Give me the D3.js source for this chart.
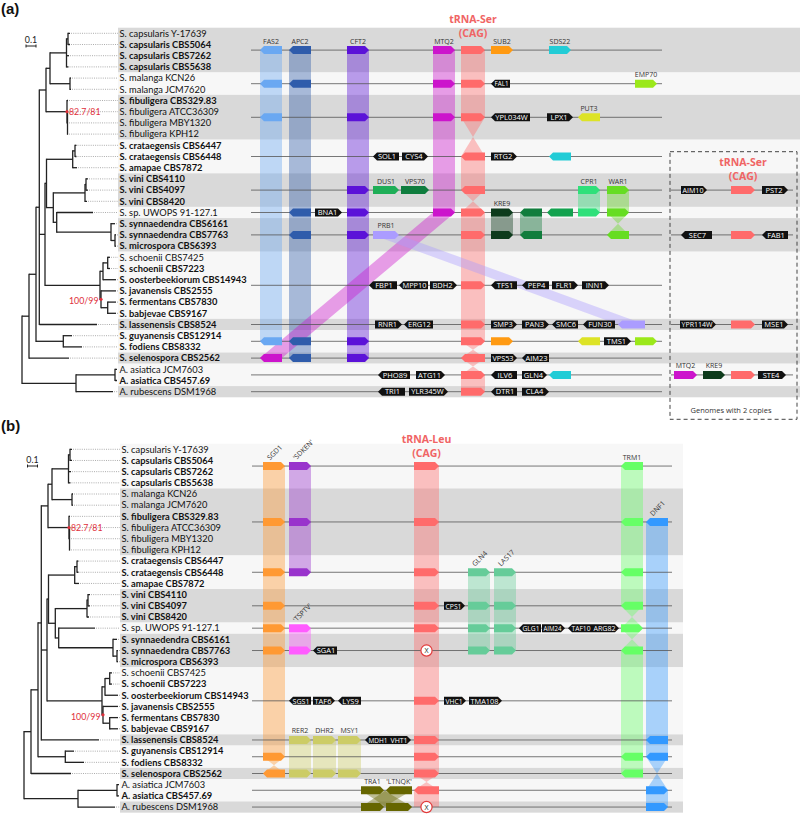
<!DOCTYPE html>
<html><head><meta charset="utf-8">
<script src="https://cdn.jsdelivr.net/npm/d3@7"></script>
<style>body{margin:0;background:#fff}svg{display:block}</style>
</head><body>
<svg id="fig" width="800" height="815"></svg>
<script>
// ---------------- DATA ----------------
const species = ["S. capsularis Y-17639","S. capsularis CBS5064","S. capsularis CBS7262","S. capsularis CBS5638",
 "S. malanga KCN26","S. malanga JCM7620","S. fibuligera CBS329.83","S. fibuligera ATCC36309","S. fibuligera MBY1320","S. fibuligera KPH12",
 "S. crataegensis CBS6447","S. crataegensis CBS6448","S. amapae CBS7872","S. vini CBS4110","S. vini CBS4097","S. vini CBS8420",
 "S. sp. UWOPS 91-127.1","S. synnaedendra CBS6161","S. synnaedendra CBS7763","S. microspora CBS6393","S. schoenii CBS7425","S. schoenii CBS7223",
 "S. oosterbeekiorum CBS14943","S. javanensis CBS2555","S. fermentans CBS7830","S. babjevae CBS9167","S. lassenensis CBS8524","S. guyanensis CBS12914",
 "S. fodiens CBS8332","S. selenospora CBS2562","A. asiatica JCM7603","A. asiatica CBS457.69","A. rubescens DSM1968"];
const speciesBold = [0,1,1,1, 0,0, 1,0,0,0, 1,1,1, 1,1,1, 0, 1,1,1, 0,1, 1, 1,1,1, 1, 1,1, 1, 0,1, 0];

const groupSizesA = [4,2,4,3,3,1,3,6,1,2,1,2,1];
const groupSizesB = [4,6,3,3,1,3,6,1,2,1,2,1];

const treeNewick =
"(" + "(" + "(" + "(" +
  "((" +
    "(('S. capsularis Y-17639':0.02,'S. capsularis CBS5064':0.02):0.015,'S. capsularis CBS7262':0.025,'S. capsularis CBS5638':0.02):0.165," +
    "('S. malanga KCN26':0.01,'S. malanga JCM7620':0.01):0.2" +
  "):0.04," +
  "('S. fibuligera CBS329.83':0.01,('S. fibuligera ATCC36309':0.005,'S. fibuligera MBY1320':0.005,'S. fibuligera KPH12':0.005):0.005)FIB:0.21" +
 "):0.067," +
 "(" + "(" +
   "(('S. crataegensis CBS6447':0.015,'S. crataegensis CBS6448':0.015):0.023,'S. amapae CBS7872':0.043):0.262," +
   "(" +
     "(('S. vini CBS4110':0.02,'S. vini CBS4097':0.02):0.01,'S. vini CBS8420':0.02):0.317," +
     "('S. sp. UWOPS 91-127.1':0.363,('S. synnaedendra CBS6161':0.04,('S. synnaedendra CBS7763':0.01,'S. microspora CBS6393':0.01):0.04):0.543):0.034" +
   "):0.068" +
  "):0.015," +
  "(" +
   "(('S. schoenii CBS7425':0.023,'S. schoenii CBS7223':0.023):0.047,'S. oosterbeekiorum CBS14943':0.13):0.03," +
   "('S. javanensis CBS2555':0.15,('S. fermentans CBS7830':0.083,'S. babjevae CBS9167':0.083):0.067)S2:0.01" +
  "):0.55" +
 "):0.057," +
 "'S. lassenensis CBS8524':0.577" +
"):0.033," +
"('S. guyanensis CBS12914':0.087,'S. fodiens CBS8332':0.187):0.273" +
"):0.07," +
"'S. selenospora CBS2562':0.4" +
"):0.07," +
"(('A. asiatica JCM7603':0.02,'A. asiatica CBS457.69':0.02):0.39,'A. rubescens DSM1968':0.37):0.54" +
")";
const supportLabels = [["FIB","82.7/81","right"],["S2","100/99","left"]];
const scaleBarValue = 0.1;

// genes: [group, label, family, start, end, strand(1 right,-1 left,0 missing), labelMode]
const genesA = [
 [0,"FAS2","FAS2",1.0,3.2,-1,"above"],[0,"APC2","APC2",3.9,6.1,-1,"above"],[0,"CFT2","CFT2",9.7,11.9,1,"above"],[0,"MTQ2","MTQ2",18.3,20.5,1,"above"],[0,"tRNA","TRNA",21.1,23.5,1,""],[0,"SUB2","SUB2",24.1,26.3,1,"above"],[0,"SDS22","SDS22",29.9,32.1,1,"above"],
 [1,"FAS2","FAS2",1.0,3.2,-1,""],[1,"APC2","APC2",3.9,6.1,-1,""],[1,"MTQ2","MTQ2",18.3,20.5,1,""],[1,"tRNA","TRNA",21.1,23.5,1,""],[1,"FAL1","BLACK",24.1,26.0,-1,"in"],[1,"EMP70","EMP70",38.5,40.7,1,"above"],
 [2,"FAS2","FAS2",1.0,3.2,-1,""],[2,"CFT2","CFT2",9.7,11.9,1,""],[2,"MTQ2","MTQ2",18.3,20.5,1,""],[2,"tRNA","TRNA",21.1,23.5,1,""],[2,"YPL034W","BLACK",24.1,28.0,-1,"in"],[2,"LPX1","BLACK",29.7,32.3,1,"in"],[2,"PUT3","PUT3",32.8,35.0,-1,"above"],
 [3,"SOL1","BLACK",12.3,14.9,-1,"in"],[3,"CYS4","BLACK",15.2,17.8,1,"in"],[3,"tRNA","TRNA",21.1,23.5,-1,""],[3,"RTG2","BLACK",24.1,26.7,1,"in"],[3,"SDS22","SDS22",29.9,32.1,-1,""],
 [4,"CFT2","CFT2",9.7,11.9,1,""],[4,"DUS1","DUS1",12.3,14.9,1,"above"],[4,"VPS70","VPS70",15.1,17.9,1,"above"],[4,"tRNA","TRNA",21.1,23.5,-1,""],[4,"CPR1","CPR1",32.8,35.0,1,"above"],[4,"WAR1","WAR1",35.7,37.9,1,"above"],
 [5,"APC2","APC2",3.9,6.1,-1,""],[5,"BNA1","BLACK",6.5,9.2,1,"in"],[5,"CFT2","CFT2",9.7,11.9,1,""],[5,"MTQ2","MTQ2",18.3,20.5,1,""],[5,"tRNA","TRNA",21.1,23.5,1,""],[5,"KRE9","KRE9",24.1,26.3,1,"above"],[5,"g1","GRN1",27.0,29.2,-1,""],[5,"g2","GRN2",29.7,32.3,-1,""],[5,"CPR1","CPR1",32.8,35.0,1,""],[5,"WAR1","WAR1",35.7,37.9,1,""],
 [6,"APC2","APC2",3.9,6.1,-1,""],[6,"CFT2","CFT2",9.7,11.9,1,""],[6,"PRB1","PRB1",12.3,14.9,1,"above"],[6,"tRNA","TRNA",21.1,23.5,1,""],[6,"KRE9","KRE9",24.1,26.3,1,""],[6,"g1","GRN1",27.0,29.2,-1,""],[6,"WAR1","WAR1",35.7,37.9,-1,""],
 [7,"FBP1","BLACK",11.9,14.7,-1,"in"],[7,"MPP10","BLACK",14.9,17.8,-1,"in"],[7,"BDH2","BLACK",18.0,20.7,1,"in"],[7,"tRNA","TRNA",21.1,23.5,1,""],[7,"TFS1","BLACK",24.1,26.7,-1,"in"],[7,"PEP4","BLACK",27.2,29.9,-1,"in"],[7,"FLR1","BLACK",30.2,32.8,1,"in"],[7,"INN1","BLACK",33.2,35.9,1,"in"],
 [8,"RNR1","BLACK",12.5,15.2,1,"in"],[8,"ERG12","BLACK",15.4,18.3,-1,"in"],[8,"tRNA","TRNA",21.1,23.5,1,""],[8,"SMP3","BLACK",24.1,26.7,1,"in"],[8,"PAN3","BLACK",27.2,29.9,1,"in"],[8,"SMC6","BLACK",30.2,32.8,-1,"in"],[8,"FUN30","BLACK",33.3,36.5,-1,"in"],[8,"PRB1","PRB1",36.8,39.5,-1,""],
 [9,"FAS2","FAS2",1.0,3.2,-1,""],[9,"APC2","APC2",3.9,6.1,-1,""],[9,"CFT2","CFT2",9.7,11.9,1,""],[9,"tRNA","TRNA",21.1,23.5,1,""],[9,"SUB2","SUB2",24.1,26.3,1,""],[9,"PUT3","PUT3",32.8,35.0,-1,""],[9,"TMS1","BLACK",35.4,38.1,1,"in"],[9,"EMP70","EMP70",38.5,40.7,1,""],
 [10,"MTQ2","MTQ2",1.0,3.2,-1,""],[10,"APC2","APC2",3.9,6.1,-1,""],[10,"CFT2","CFT2",9.7,11.9,1,""],[10,"tRNA","TRNA",21.1,23.5,-1,""],[10,"VPS53","BLACK",24.1,26.7,1,"in"],[10,"AIM23","BLACK",27.2,29.9,-1,"in"],
 [11,"PHO89","BLACK",12.8,16.0,-1,"in"],[11,"ATG11","BLACK",16.6,19.5,1,"in"],[11,"tRNA","TRNA",21.1,23.5,1,""],[11,"ILV6","BLACK",24.1,26.7,-1,"in"],[11,"GLN4","BLACK",27.2,29.7,1,"in"],[11,"SDS22","SDS22",29.9,32.1,-1,""],
 [12,"TRI1","BLACK",12.8,15.5,-1,"in"],[12,"YLR345W","BLACK",15.9,19.8,1,"in"],[12,"tRNA","TRNA",21.1,23.5,1,""],[12,"DTR1","BLACK",24.1,26.7,-1,"in"],[12,"CLA4","BLACK",27.2,29.9,1,"in"]
];
const genesBox = [
 [4,"AIM10","BLACK",1.1,3.7,1,"in"],[4,"tRNA","TRNA",6.1,8.5,1,""],[4,"PST2","BLACK",9.2,11.8,1,"in"],
 [6,"SEC7","BLACK",1.1,4.2,-1,"in"],[6,"tRNA","TRNA",6.1,8.5,1,""],[6,"FAB1","BLACK",9.2,11.8,-1,"in"],
 [8,"YPR114W","BLACK",1.0,4.6,1,"in"],[8,"tRNA","TRNA",6.1,8.5,1,""],[8,"MSE1","BLACK",9.2,11.8,1,"in"],
 [11,"MTQ2","MTQ2",0.4,2.7,1,"above"],[11,"KRE9","KRE9",3.3,5.5,1,"above"],[11,"tRNA","TRNA",6.1,8.5,1,""],[11,"STE4","BLACK",8.8,11.6,1,"in"]
];
const boxGroups = [4,6,8,11];
const genesB = [
 [0,"SGD1","SGD1",1.3,3.5,1,"rot"],[0,"'SDKEN'","SDKEN",3.9,6.1,1,"rot"],[0,"tRNA","TRNA",16.4,18.9,1,""],[0,"TRM1","TRM1",37.1,39.3,-1,"above"],
 [1,"SGD1","SGD1",1.3,3.5,1,""],[1,"'SDKEN'","SDKEN",3.9,6.1,1,""],[1,"tRNA","TRNA",16.4,18.9,1,""],[1,"TRM1","TRM1",37.1,39.3,-1,""],[1,"DNF1","DNF1",39.6,41.8,-1,"rot"],
 [2,"SGD1","SGD1",1.3,3.5,1,""],[2,"'SDKEN'","SDKEN",3.9,6.1,1,""],[2,"tRNA","TRNA",16.4,18.9,1,""],[2,"GLN4","GLN4",21.8,24.0,1,"rot"],[2,"LAS17","LAS17",24.4,26.6,1,"rot"],[2,"TRM1","TRM1",37.1,39.3,-1,""],
 [3,"SGD1","SGD1",1.3,3.5,1,""],[3,"tRNA","TRNA",16.4,18.9,1,""],[3,"CPS1","BLACK",19.4,21.5,1,"in"],[3,"GLN4","GLN4",21.8,24.0,1,""],[3,"LAS17","LAS17",24.4,26.6,1,""],[3,"TRM1","TRM1",37.1,39.3,-1,""],
 [4,"SGD1","SGD1",1.3,3.5,1,""],[4,"'TSPTV'","TSPTV",3.9,6.1,1,"rot"],[4,"tRNA","TRNA",16.4,18.9,1,""],[4,"GLN4","GLN4",21.8,24.0,1,""],[4,"LAS17","LAS17",24.4,26.6,1,""],[4,"GLG1","BLACK",26.9,29.1,-1,"in"],[4,"AIM24","BLACK",29.2,31.5,1,"in"],[4,"TAF10","BLACK",31.8,34.2,-1,"in"],[4,"ARG82","BLACK",34.2,36.9,1,"in"],[4,"TRM1","TRM1",37.1,39.3,1,""],
 [5,"SGD1","SGD1",1.3,3.5,1,""],[5,"'TSPTV'","TSPTV",3.9,6.1,1,""],[5,"SGA1","BLACK",6.3,8.7,-1,"in"],[5,"tRNA","TRNA",16.4,18.9,0,""],[5,"GLN4","GLN4",21.8,24.0,1,""],[5,"LAS17","LAS17",24.4,26.6,1,""],[5,"TRM1","TRM1",37.1,39.3,-1,""],
 [6,"SGS1","BLACK",3.9,6.1,-1,"in"],[6,"TAF6","BLACK",6.3,8.5,1,"in"],[6,"LYS9","BLACK",8.8,11.1,-1,"in"],[6,"tRNA","TRNA",16.4,18.9,1,""],[6,"VHC1","BLACK",19.4,21.6,1,"in"],[6,"TMA108","BLACK",21.9,25.2,1,"in"],
 [7,"RER2","RER2",3.9,6.1,1,"above"],[7,"DHR2","DHR2",6.3,8.6,1,"above"],[7,"MSY1","MSY1",8.8,11.1,1,"above"],[7,"MDH1","BLACK",11.5,13.9,-1,"in"],[7,"VHT1","BLACK",13.9,16.1,1,"in"],[7,"tRNA","TRNA",16.4,18.9,1,""],[7,"DNF1","DNF1",39.6,41.8,-1,""],
 [8,"SGD1","SGD1",1.3,3.5,1,""],[8,"tRNA","TRNA",16.4,18.9,1,""],[8,"TRM1","TRM1",37.1,39.3,-1,""],[8,"DNF1","DNF1",39.6,41.8,-1,""],
 [9,"SGD1","SGD1",1.3,3.5,-1,""],[9,"RER2","RER2",3.9,6.1,1,""],[9,"DHR2","DHR2",6.3,8.6,1,""],[9,"MSY1","MSY1",8.8,11.1,1,""],[9,"tRNA","TRNA",16.4,18.9,1,""],[9,"TRM1","TRM1",37.1,39.3,-1,""],
 [10,"TRA1","TRA1",11.1,13.4,1,"above"],[10,"'LTNQK'","LTNQK",13.6,16.2,-1,"above"],[10,"tRNA","TRNA",16.4,18.9,-1,""],[10,"DNF1","DNF1",39.6,41.8,1,""],
 [11,"'LTNQK'","LTNQK",11.1,13.4,1,""],[11,"TRA1","TRA1",13.6,16.2,1,""],[11,"tRNA","TRNA",16.4,18.9,0,""],[11,"DNF1","DNF1",39.6,41.8,1,""]
];
const linkFamiliesA = ["FAS2","APC2","CFT2","MTQ2","TRNA","KRE9","GRN1","CPR1","WAR1","PRB1"];
const linkFamiliesB = ["SGD1","SDKEN","TSPTV","TRNA","GLN4","LAS17","TRM1","DNF1","RER2","DHR2","MSY1","TRA1","LTNQK"];
const familyColors = {FAS2:"#6aa8f2",APC2:"#2f5cab",CFT2:"#5b12d8",MTQ2:"#cc14cc",TRNA:"#ff6b6b",SUB2:"#ff9a12",SDS22:"#22ccd6",
 EMP70:"#9be81a",PUT3:"#dde326",DUS1:"#1fae57",VPS70:"#0f7d3e",CPR1:"#2fe07a",WAR1:"#66dd22",KRE9:"#0d3b1c",GRN1:"#117d3d",
 GRN2:"#13a24f",PRB1:"#ab9cff",BLACK:"#111111",SGD1:"#ff9933",SDKEN:"#9933cc",TSPTV:"#ff5cff",GLN4:"#66cc99",LAS17:"#66cc99",
 TRM1:"#66ff66",DNF1:"#3399ff",RER2:"#cccc66",DHR2:"#cccc66",MSY1:"#cccc66",TRA1:"#666600",LTNQK:"#666600"};
const titleA = ["tRNA-Ser","(CAG)"];
const titleB = ["tRNA-Leu","(CAG)"];
const boxCaption = "Genomes with 2 copies";
const panelLetters = ["(a)","(b)"];

// ---------------- DRAWING ----------------
const svg = d3.select("#fig");
const FONT = "Lato, 'Open Sans', sans-serif";
const GENE_FONT = "'Open Sans', sans-serif";
const RED = "#f06464";

function parseNewick(s){
  let i=0;
  function node(){
    const n={children:[],name:"",length:0};
    if(s[i]==="("){ i++; n.children.push(node()); while(s[i]===","){ i++; n.children.push(node()); } i++; }
    if(s[i]==="'"){ i++; while(s[i]!=="'") n.name+=s[i++]; i++; }
    else { while(i<s.length && !":,();".includes(s[i])) n.name+=s[i++]; }
    if(s[i]===":"){ i++; let num=""; while(i<s.length && !",();".includes(s[i])) num+=s[i++]; n.length=+num; }
    return n;
  }
  return node();
}

function genePath(x0,x1,y,strand){
  const h=4, p=Math.min(4,(x1-x0)/2);
  if(strand>=0) return `M${x0},${y-h}L${x1-p},${y-h}L${x1},${y}L${x1-p},${y+h}L${x0},${y+h}Z`;
  return `M${x1},${y-h}L${x0+p},${y-h}L${x0},${y}L${x0+p},${y+h}L${x1},${y+h}Z`;
}

function drawGenes(g, list, xs, gy){
  const data = list.map(r=>({grp:r[0],label:r[1],fam:r[2],s:r[3],e:r[4],strand:r[5],mode:r[6]}));
  data.forEach(d=>{d.x0=xs(d.s); d.x1=xs(d.e); d.y=gy(d.grp);});
  const shapes = data.filter(d=>d.strand!==0);
  g.append("g").selectAll("path").data(shapes).join("path")
    .attr("d",d=>genePath(d.x0,d.x1,d.y,d.strand)).attr("fill",d=>familyColors[d.fam]);
  const miss = data.filter(d=>d.strand===0);
  const mg = g.append("g").selectAll("g").data(miss).join("g")
    .attr("transform",d=>`translate(${(d.x0+d.x1)/2},${d.y})`);
  mg.append("circle").attr("r",5.6).attr("fill","#fff").attr("stroke","#e23b3b").attr("stroke-width",1.2);
  mg.append("text").text("X").attr("text-anchor","middle").attr("y",2.5).attr("font-size",7).attr("font-family",GENE_FONT).attr("fill","#222");
  g.append("g").selectAll("text").data(data.filter(d=>d.mode==="in")).join("text")
    .text(d=>d.label).attr("x",d=>(d.x0+d.x1)/2 + (d.strand>0?-1:1)).attr("y",d=>d.y+2.7)
    .attr("text-anchor","middle").attr("font-size",7.5).attr("font-family",GENE_FONT).attr("fill","#fff")
    .each(function(d){ const avail=d.x1-d.x0-5; if(this.getComputedTextLength()>avail){ d3.select(this).attr("textLength",avail).attr("lengthAdjust","spacingAndGlyphs"); } });
  g.append("g").selectAll("text").data(data.filter(d=>d.mode==="above")).join("text")
    .text(d=>d.label).attr("x",d=>(d.x0+d.x1)/2).attr("y",d=>d.y-6.5)
    .attr("text-anchor","middle").attr("font-size",7).attr("font-family",GENE_FONT).attr("fill","#333");
  g.append("g").selectAll("text").data(data.filter(d=>d.mode==="rot")).join("text")
    .text(d=>d.label).attr("transform",d=>`translate(${(d.x0+d.x1)/2-4},${d.y-5.5}) rotate(-45)`)
    .attr("font-size",7).attr("font-family",GENE_FONT).attr("fill","#333");
  return data;
}

function drawLinks(g, list, xs, gy, fams){
  const rows = list.map(r=>({grp:r[0],fam:r[2],s:r[3],e:r[4],strand:r[5]}));
  fams.forEach(f=>{
    const occ = rows.filter(r=>r.fam===f).sort((a,b)=>a.grp-b.grp);
    for(let k=0;k<occ.length-1;k++){
      const a=occ[k], b=occ[k+1];
      const ax0=xs(a.s), ax1=xs(a.e), bx0=xs(b.s), bx1=xs(b.e), ya=gy(a.grp), yb=gy(b.grp);
      const vertical = Math.abs(ax0-bx0)<1 && Math.abs(ax1-bx1)<1;
      let p;
      if(vertical && a.strand!==0 && b.strand!==0 && a.strand!==b.strand){
        const ym=(ya+yb)/2, xm=(ax0+ax1)/2;
        p=`M${ax0},${ya}L${ax1},${ya}L${xm},${ym}L${bx1},${yb}L${bx0},${yb}L${xm},${ym}Z`;
      } else p=`M${ax0},${ya}L${ax1},${ya}L${bx1},${yb}L${bx0},${yb}Z`;
      g.append("path").attr("d",p).attr("fill",familyColors[f]).attr("fill-opacity",0.4);
    }
  });
}

function drawPanel(cfg){
  const g = svg.append("g");
  const yBand = d3.scaleBand().domain(species).range([cfg.top, cfg.top+species.length*cfg.step]).padding(0);
  const yC = s => yBand(s)+yBand.bandwidth()/2;
  let idx=0;
  const groups = cfg.groupSizes.map((n,k)=>{ const f=species[idx], l=species[idx+n-1]; idx+=n;
    return {k, y0:yBand(f), y1:yBand(l)+yBand.bandwidth(), y:(yC(f)+yC(l))/2}; });
  const gy = k => groups[k].y;
  g.append("g").selectAll("rect").data(groups).join("rect")
    .attr("x",cfg.bgX0).attr("width",cfg.bgX1-cfg.bgX0).attr("y",d=>d.y0).attr("height",d=>d.y1-d.y0)
    .attr("fill",d=>(d.k%2===cfg.grayParity)?"#d9d9d9":"#f7f7f7");
  // tree
  const root = d3.hierarchy(parseNewick(treeNewick), d=>d.children.length?d.children:null);
  const xt = d3.scaleLinear().domain([0,1]).range([cfg.treeX0, cfg.treeX0+100]);
  root.eachBefore(d=>{ d.dist = d.parent ? d.parent.dist + d.data.length : 0; d.px = xt(d.dist); });
  root.eachAfter(d=>{ d.py = d.children ? (d.children[0].py + d.children[d.children.length-1].py)/2 : yC(d.data.name); });
  const tg = g.append("g");
  tg.selectAll("line.dot").data(root.leaves()).join("line")
    .attr("x1",d=>d.px+1).attr("x2",cfg.labelX-1.5).attr("y1",d=>d.py).attr("y2",d=>d.py)
    .attr("stroke","#8a8a8a").attr("stroke-width",0.7).attr("stroke-dasharray","1,1.2");
  tg.selectAll("path.br").data(root.descendants().filter(d=>d.parent)).join("path")
    .attr("d",d=>`M${d.parent.px},${d.py}H${d.px}`).attr("stroke","#222").attr("stroke-width",1.3).attr("fill","none");
  tg.selectAll("path.vt").data(root.descendants().filter(d=>d.children)).join("path")
    .attr("d",d=>`M${d.px},${d.children[0].py-0.6}V${d.children[d.children.length-1].py+0.6}`).attr("stroke","#222").attr("stroke-width",1.3).attr("fill","none");
  supportLabels.forEach(([nm,txt,side])=>{
    const n = root.descendants().find(d=>d.data.name===nm);
    tg.append("circle").attr("cx",n.px).attr("cy",n.py).attr("r",1.6).attr("fill","#e0303a");
    tg.append("text").text(txt).attr("x",side==="right"?n.px+2:n.px-2.5).attr("y",n.py+(side==="right"?3:5))
      .attr("text-anchor",side==="right"?"start":"end").attr("font-size",8.8).attr("font-family",FONT).attr("fill","#e0303a");
  });
  // scale bar
  const sb = g.append("g");
  const sbx0 = cfg.sbX, sbx1 = cfg.sbX + (xt(scaleBarValue)-xt(0));
  sb.append("path").attr("d",`M${sbx0},${cfg.sbY-1.5}V${cfg.sbY+1.5}M${sbx0},${cfg.sbY}H${sbx1}M${sbx1},${cfg.sbY-1.5}V${cfg.sbY+1.5}`).attr("stroke","#222").attr("stroke-width",1);
  sb.append("text").text(String(scaleBarValue)).attr("x",(sbx0+sbx1)/2).attr("y",cfg.sbY-3.5).attr("text-anchor","middle").attr("font-size",8.8).attr("font-family",FONT).attr("fill","#222");
  // species labels
  g.append("g").selectAll("text").data(species).join("text")
    .text(d=>d).attr("x",cfg.labelX).attr("y",d=>yC(d)+3.3)
    .attr("font-size",9.3).attr("font-family",FONT).attr("font-weight",(d,i)=>speciesBold[i]?700:400).attr("fill","#111");
  g.append("text").text(cfg.letter).attr("x",1).attr("y",cfg.letterY).attr("font-size",15).attr("font-weight",700)
    .attr("font-family","'Liberation Sans', Arial, sans-serif").attr("fill","#111");
  const xs = d3.scaleLinear().domain([0,41]).range([250,660]);
  drawLinks(g.append("g"), cfg.genes, xs, gy, cfg.linkFams);
  g.append("g").selectAll("line").data(groups).join("line")
    .attr("x1",xs(cfg.lineExt[0])).attr("x2",xs(cfg.lineExt[1])).attr("y1",d=>d.y).attr("y2",d=>d.y)
    .attr("stroke","#555").attr("stroke-width",0.8);
  drawGenes(g.append("g"), cfg.genes, xs, gy);
  const tx = xs(cfg.titleCol);
  cfg.title.forEach((t,i)=> g.append("text").text(t).attr("x",tx).attr("y",cfg.titleY+i*13.5).attr("text-anchor","middle")
    .attr("font-size",10.5).attr("font-weight",700).attr("font-family",GENE_FONT).attr("fill",RED));
  return {g, groups, gy};
}

const A = drawPanel({top:27.7, step:11.2, groupSizes:groupSizesA, grayParity:0, bgX0:118, bgX1:800, treeX0:22, labelX:119.5,
  sbX:26, sbY:46, letter:panelLetters[0], letterY:14, genes:genesA, linkFams:linkFamiliesA, lineExt:[0.1,41.2],
  title:titleA, titleCol:22.3, titleY:23});
const B = drawPanel({top:443.7, step:11.18, groupSizes:groupSizesB, grayParity:1, bgX0:120, bgX1:683, treeX0:24, labelX:121.5,
  sbX:27.5, sbY:466, letter:panelLetters[1], letterY:431, genes:genesB, linkFams:linkFamiliesB, lineExt:[0.2,42.2],
  title:titleB, titleCol:17.65, titleY:443});

// ---- box of genomes with two copies (panel a) ----
const xb = d3.scaleLinear().domain([0,12.7]).range([670,797]);
const bg = svg.append("g");
bg.append("g").selectAll("line").data(boxGroups).join("line")
  .attr("x1",xb(0.1)).attr("x2",xb(12.3)).attr("y1",k=>A.gy(k)).attr("y2",k=>A.gy(k)).attr("stroke","#555").attr("stroke-width",0.8);
drawGenes(bg.append("g"), genesBox, xb, A.gy);
bg.append("rect").attr("x",670).attr("y",151.7).attr("width",127).attr("height",267.6).attr("fill","none")
  .attr("stroke","#444").attr("stroke-width",1).attr("stroke-dasharray","4,3");
titleA.forEach((t,i)=> bg.append("text").text(t).attr("x",xb(7.3)).attr("y",166+i*14).attr("text-anchor","middle")
  .attr("font-size",10.5).attr("font-weight",700).attr("font-family",GENE_FONT).attr("fill",RED));
bg.append("text").text(boxCaption).attr("x",731).attr("y",412.5).attr("text-anchor","middle").attr("font-size",7.5)
  .attr("font-family",GENE_FONT).attr("fill","#333");
</script>
</body></html>
